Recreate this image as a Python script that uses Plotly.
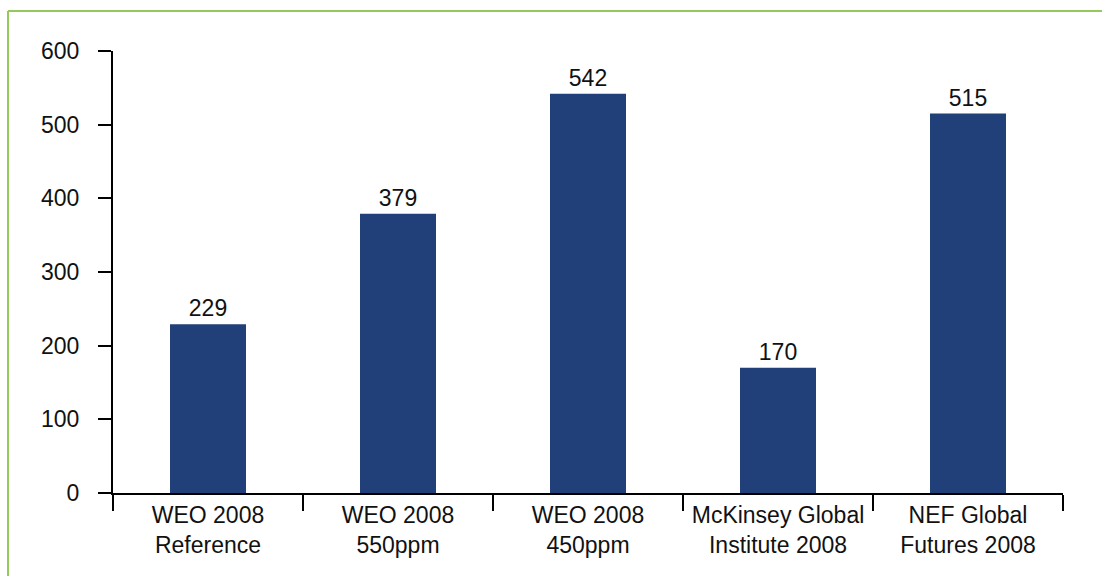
import plotly.graph_objects as go

categories = ["WEO 2008<br>Reference", "WEO 2008<br>550ppm", "WEO 2008<br>450ppm",
              "McKinsey Global<br>Institute 2008", "NEF Global<br>Futures 2008"]
values = [229, 379, 542, 170, 515]
y_ticks = [0, 100, 200, 300, 400, 500, 600]

W, H = 1102, 576
L, R, T, B = 113, 39, 51, 83
plot_w = W - L - R
plot_h = H - T - B

def px_to_paper_x(px):
    return (px - L) / plot_w

def px_to_paper_y(py):
    return (H - B - py) / plot_h

font_family = "Liberation Sans, Arial, Helvetica, sans-serif"
font_size = 23
bar_color = "#213f78"
frame_color = "#96c95c"

fig = go.Figure(go.Bar(
    x=categories, y=values, width=0.4,
    marker=dict(color=bar_color, line=dict(width=0)),
    text=[str(v) for v in values], textposition="outside",
    textfont=dict(family=font_family, size=font_size, color="#111111"),
    cliponaxis=False,
))

fig.update_layout(
    width=W, height=H,
    margin=dict(l=L, r=R, t=T, b=B),
    paper_bgcolor="white", plot_bgcolor="white",
    showlegend=False,
    font=dict(family=font_family, size=font_size, color="#111111"),
    xaxis=dict(
        type="category", tickson="boundaries", ticks="outside", ticklen=16,
        tickwidth=2, tickcolor="#000000",
        showline=True, linecolor="#000000", linewidth=2,
        showgrid=False, zeroline=False,
        range=[-0.5, len(categories) - 0.5],
        tickfont=dict(family=font_family, size=font_size, color="#111111"),
    ),
    yaxis=dict(
        range=[0, 600], tickvals=y_ticks, ticks="outside", ticklen=13,
        tickwidth=2, tickcolor="#000000",
        showline=True, linecolor="#000000", linewidth=2,
        showgrid=False, zeroline=False, ticklabelstandoff=14,
        tickfont=dict(family=font_family, size=font_size, color="#111111"),
    ),
    shapes=[
        # green frame along the left and top edges
        dict(type="line", xref="paper", yref="paper",
             x0=px_to_paper_x(8), x1=px_to_paper_x(8),
             y0=px_to_paper_y(11), y1=px_to_paper_y(600),
             line=dict(color=frame_color, width=2)),
        dict(type="line", xref="paper", yref="paper",
             x0=px_to_paper_x(8), x1=px_to_paper_x(1120),
             y0=px_to_paper_y(11), y1=px_to_paper_y(11),
             line=dict(color=frame_color, width=2)),
    ],
)

fig.write_html("out.html")
